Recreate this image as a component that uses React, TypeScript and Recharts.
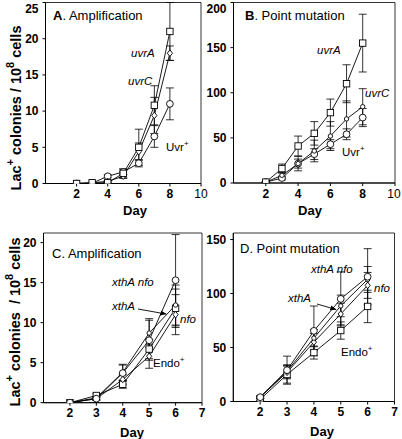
import React from "react";
import { LineChart, Line, XAxis, YAxis, ErrorBar, ReferenceArea } from "recharts";

// days sampled in panels A/B and C/D
const daysAB = [2, 3, 4, 5, 6, 7, 8];
const daysCD = [2, 3, 4, 5, 6];

// A. Amplification (Lac+ colonies / 10^8 cells)
const ampUvrA = [0, 0.1, 0.1, 1.4, 5.0, 10.8, 21.0];
const ampUvrAErr = [0, 0, 0.1, 0.6, 2.5, 2.7, 4.0];
const ampUvrC = [0, 0.1, 0.3, 1.0, 4.4, 9.4, 18.0];
const ampUvrCErr = [0, 0, 0.1, 0.3, 1.2, 2.5, 1.0];
const ampUvrPlus = [0, 0.05, 1.0, 1.6, 2.8, 6.5, 11.0];
const ampUvrPlusErr = [0, 0, 0.2, 0.4, 0.5, 1.5, 2.2];

// B. Point mutation
const ptUvrA = [1, 16, 41, 55, 78, 110, 155];
const ptUvrAErr = [0.5, 5, 11, 13, 15, 21, 32];
const ptUvrC = [1, 8.5, 21.5, 35.5, 52, 71, 84.5];
const ptUvrCErr = [0.5, 3, 8, 12, 16, 20, 20];
const ptUvrPlus = [1, 5.5, 21.5, 32, 43, 54, 72.5];
const ptUvrPlusErr = [0.5, 2, 5, 6, 5, 6, 10];

// C. Amplification
const ampXthANfo = [0, 0.5, 3.7, 7.8, 15.3];
const ampXthANfoErr = [0, 0.2, 1.0, 2.5, 5.7];
const ampXthA = [0, 0.6, 3.8, 8.7, 12.2];
const ampXthAErr = [0, 0.2, 1.0, 1.8, 2.5];
const ampNfo = [0, 0.5, 2.9, 5.8, 11.0];
const ampNfoErr = [0, 0.2, 0.6, 1.5, 2.5];
const ampEndo = [0, 0.9, 2.3, 6.7, 11.8];
const ampEndoErr = [0, 0.2, 0.5, 1.2, 2.4];

// D. Point mutation
const ptXthANfo = [4, 29, 65.4, 95, 115.5];
const ptXthANfoErr = [1, 13, 23, 25, 26];
const ptXthA = [4, 28, 58.7, 88.5, 113];
const ptXthAErr = [1, 6, 8, 10, 12];
const ptNfo = [4, 27, 55, 81, 107.5];
const ptNfoErr = [1, 6, 8, 10, 12];
const ptEndo = [2, 25, 45.3, 65.7, 88];
const ptEndoErr = [1, 8, 6, 8, 15];

const ticksA = [0, 5, 10, 15, 20, 25];
const ticksB = [0, 50, 100, 150, 200];
const ticksC = [0, 5, 10, 15, 20];
const ticksD = [0, 50, 100, 150];
const dayTicksAB = [2, 4, 6, 8, 10];
const dayTicksCD = [2, 3, 4, 5, 6, 7];

const FONT = "'Liberation Sans', Arial, Helvetica, sans-serif";

const dataA = daysAB.map((day, i) => ({
  day,
  a: ampUvrA[i], aErr: ampUvrAErr[i],
  c: ampUvrC[i], cErr: ampUvrCErr[i],
  p: ampUvrPlus[i], pErr: ampUvrPlusErr[i],
}));
const dataB = daysAB.map((day, i) => ({
  day,
  a: ptUvrA[i], aErr: ptUvrAErr[i],
  c: ptUvrC[i], cErr: ptUvrCErr[i],
  p: ptUvrPlus[i], pErr: ptUvrPlusErr[i],
}));
const dataC = daysCD.map((day, i) => ({
  day,
  xn: ampXthANfo[i], xnErr: ampXthANfoErr[i],
  x: ampXthA[i], xErr: ampXthAErr[i],
  n: ampNfo[i], nErr: ampNfoErr[i],
  e: ampEndo[i], eErr: ampEndoErr[i],
}));
const dataD = daysCD.map((day, i) => ({
  day,
  xn: ptXthANfo[i], xnErr: ptXthANfoErr[i],
  x: ptXthA[i], xErr: ptXthAErr[i],
  n: ptNfo[i], nErr: ptNfoErr[i],
  e: ptEndo[i], eErr: ptEndoErr[i],
}));

type Shape = "square" | "circle" | "smallCircle" | "diamond";

function marker(shape: Shape, props: any) {
  const { cx, cy, index } = props;
  const key = `${shape}-${index}`;
  if (cx == null || cy == null) return <g key={key} />;
  const st = { fill: "#fff", stroke: "#000", strokeWidth: 0.9 };
  if (shape === "square")
    return <rect key={key} x={cx - 3.2} y={cy - 3.2} width={6.4} height={6.4} {...st} />;
  if (shape === "circle") return <circle key={key} cx={cx} cy={cy} r={3.4} {...st} />;
  if (shape === "smallCircle") return <circle key={key} cx={cx} cy={cy} r={2.2} {...st} />;
  return (
    <polygon
      key={key}
      points={`${cx},${cy - 3.3} ${cx + 2.6},${cy} ${cx},${cy + 3.3} ${cx - 2.6},${cy}`}
      {...st}
    />
  );
}

const XTick = (props: any) => {
  const { x, y, payload, light } = props;
  return (
    <text x={x} y={y} dy="0.71em" textAnchor="middle" fontSize={12} fontFamily={FONT}
      fontWeight={payload.value === light ? 400 : 700} fill="#000">
      {payload.value}
    </text>
  );
};

const YTick = (props: any) => {
  const { x, y, payload } = props;
  return (
    <text x={x} y={y} dy="0.355em" textAnchor="end" fontSize={12} fontFamily={FONT}
      fontWeight={700} fill="#000">
      {payload.value}
    </text>
  );
};

type Series = { key: string; err: string; shape: Shape };

type PanelProps = {
  left: number; top: number; width: number; height: number;
  margin: { top: number; right: number; left: number; bottom: number };
  yWidth: number; xHeight: number;
  xDomain: [number, number]; yDomain: [number, number];
  xTicks: number[]; yTicks: number[];
  data: any[]; series: Series[]; light?: number;
};

function Panel(p: PanelProps) {
  return (
    <div style={{ position: "absolute", left: p.left, top: p.top }}>
      <LineChart width={p.width} height={p.height} data={p.data} margin={p.margin}>
        <XAxis dataKey="day" type="number" domain={p.xDomain} ticks={p.xTicks}
          allowDataOverflow height={p.xHeight} tickSize={3} tickMargin={3}
          axisLine={{ stroke: "#000" }} tickLine={{ stroke: "#000" }}
          tick={(t: any) => <XTick {...t} light={p.light} />} />
        <YAxis type="number" domain={p.yDomain} ticks={p.yTicks} allowDataOverflow
          width={p.yWidth} tickSize={3} tickMargin={4}
          axisLine={{ stroke: "#000" }} tickLine={{ stroke: "#000" }}
          tick={(t: any) => <YTick {...t} />} />
        <ReferenceArea x1={p.xDomain[0]} x2={p.xDomain[1]} y1={p.yDomain[0]} y2={p.yDomain[1]}
          fill="none" fillOpacity={0} stroke="#000" strokeWidth={0.8} ifOverflow="visible" />
        {p.series.map((s) => (
          <Line key={s.key} dataKey={s.key} type="linear" stroke="#000" strokeWidth={0.9}
            isAnimationActive={false} dot={(d: any) => marker(s.shape, d)} activeDot={false}>
            <ErrorBar dataKey={s.err} width={4} stroke="#000" strokeWidth={0.8}
              direction="y" isAnimationActive={false} />
          </Line>
        ))}
      </LineChart>
    </div>
  );
}

export default function App() {
  return (
    <div style={{ position: "absolute", left: 0, top: 0, width: 402, height: 439, background: "#fff", fontFamily: FONT }}>
      <Panel left={0} top={0} width={215} height={220}
        margin={{ top: 2.5, right: 14, left: 0, bottom: 0 }} yWidth={45.5} xHeight={36.5}
        xDomain={[0, 10]} yDomain={[0, 25]} xTicks={dayTicksAB} yTicks={ticksA}
        data={dataA} light={10}
        series={[
          { key: "p", err: "pErr", shape: "circle" },
          { key: "c", err: "cErr", shape: "diamond" },
          { key: "a", err: "aErr", shape: "square" },
        ]} />
      <Panel left={200} top={0} width={202} height={220}
        margin={{ top: 2.5, right: 7, left: 0, bottom: 0 }} yWidth={33.5} xHeight={37}
        xDomain={[0, 10]} yDomain={[0, 200]} xTicks={dayTicksAB} yTicks={ticksB}
        data={dataB} light={10}
        series={[
          { key: "p", err: "pErr", shape: "circle" },
          { key: "c", err: "cErr", shape: "smallCircle" },
          { key: "a", err: "aErr", shape: "square" },
        ]} />
      <Panel left={0} top={220} width={215} height={219}
        margin={{ top: 13, right: 13, left: 0, bottom: 0 }} yWidth={43.5} xHeight={36.3}
        xDomain={[1, 7]} yDomain={[0, 21.2]} xTicks={dayTicksCD} yTicks={ticksC}
        data={dataC}
        series={[
          { key: "e", err: "eErr", shape: "square" },
          { key: "n", err: "nErr", shape: "diamond" },
          { key: "x", err: "xErr", shape: "smallCircle" },
          { key: "xn", err: "xnErr", shape: "circle" },
        ]} />
      <Panel left={200} top={220} width={202} height={219}
        margin={{ top: 13, right: 7.5, left: 0, bottom: 0 }} yWidth={33.3} xHeight={37.5}
        xDomain={[1, 7]} yDomain={[0, 156]} xTicks={dayTicksCD} yTicks={ticksD}
        data={dataD}
        series={[
          { key: "e", err: "eErr", shape: "square" },
          { key: "n", err: "nErr", shape: "diamond" },
          { key: "x", err: "xErr", shape: "smallCircle" },
          { key: "xn", err: "xnErr", shape: "circle" },
        ]} />

      <svg width={402} height={439} style={{ position: "absolute", left: 0, top: 0, pointerEvents: "none" }}
        fontFamily={FONT} fill="#000">
        <defs>
          <marker id="ah" viewBox="0 0 10 10" refX="9" refY="5" markerWidth="7" markerHeight="7" orient="auto">
            <path d="M0,1 L10,5 L0,9 z" fill="#000" />
          </marker>
        </defs>

        {/* y-axis titles */}
        <text transform="translate(16,108) rotate(-90)" textAnchor="middle" dominantBaseline="central"
          fontSize={14.5} fontWeight={700}>
          Lac<tspan dy={-6} fontSize={11}>+</tspan>
          <tspan dy={6}> colonies / 10</tspan>
          <tspan dy={-6} fontSize={11}>8</tspan>
          <tspan dy={6}> cells</tspan>
        </text>
        <text transform="translate(15,322) rotate(-90)" textAnchor="middle" dominantBaseline="central"
          fontSize={14.5} fontWeight={700}>
          Lac<tspan dy={-6} fontSize={11}>+</tspan>
          <tspan dy={6} xmlSpace="preserve"> colonies  / 10</tspan>
          <tspan dy={-6} fontSize={11}>8</tspan>
          <tspan dy={6}> cells</tspan>
        </text>

        {/* x-axis titles */}
        <text x={135} y={210} textAnchor="middle" dominantBaseline="central" fontSize={13} fontWeight={700}>Day</text>
        <text x={310} y={210} textAnchor="middle" dominantBaseline="central" fontSize={13} fontWeight={700}>Day</text>
        <text x={132} y={432} textAnchor="middle" dominantBaseline="central" fontSize={13} fontWeight={700}>Day</text>
        <text x={322} y={431} textAnchor="middle" dominantBaseline="central" fontSize={13} fontWeight={700}>Day</text>

        {/* panel titles */}
        <text x={53} y={15} dominantBaseline="central" fontSize={13}>
          <tspan fontWeight={700}>A</tspan>. Amplification
        </text>
        <text x={245} y={15} dominantBaseline="central" fontSize={13}>
          <tspan fontWeight={700}>B</tspan>. Point mutation
        </text>
        <text x={52} y={253} dominantBaseline="central" fontSize={13}>C. Amplification</text>
        <text x={240} y={248} dominantBaseline="central" fontSize={13}>D. Point mutation</text>

        {/* series labels A */}
        <text x={131} y={53} dominantBaseline="central" fontSize={11.5} fontStyle="italic">uvrA</text>
        <text x={128} y={81} dominantBaseline="central" fontSize={11.5} fontStyle="italic">uvrC</text>
        <text x={166} y={147} dominantBaseline="central" fontSize={11.5}>
          Uvr<tspan dy={-4} fontSize={8}>+</tspan>
        </text>
        {/* series labels B */}
        <text x={317} y={50} dominantBaseline="central" fontSize={11.5} fontStyle="italic">uvrA</text>
        <text x={365} y={93} dominantBaseline="central" fontSize={11.5} fontStyle="italic">uvrC</text>
        <text x={342} y={152} dominantBaseline="central" fontSize={11.5}>
          Uvr<tspan dy={-4} fontSize={8}>+</tspan>
        </text>
        {/* series labels C */}
        <text x={112} y={282} dominantBaseline="central" fontSize={11.5} fontStyle="italic">xthA nfo</text>
        <text x={112} y={306} dominantBaseline="central" fontSize={11.5} fontStyle="italic">xthA</text>
        <text x={180} y={319} dominantBaseline="central" fontSize={11.5} fontStyle="italic">nfo</text>
        <text x={153} y={363} dominantBaseline="central" fontSize={11.5}>
          Endo<tspan dy={-4} fontSize={8}>+</tspan>
        </text>
        <line x1={138} y1={309} x2={166} y2={314} stroke="#000" strokeWidth={0.9} markerEnd="url(#ah)" />
        {/* series labels D */}
        <text x={311} y={269} dominantBaseline="central" fontSize={11.5} fontStyle="italic">xthA nfo</text>
        <text x={288} y={298} dominantBaseline="central" fontSize={11.5} fontStyle="italic">xthA</text>
        <text x={374} y={288} dominantBaseline="central" fontSize={11.5} fontStyle="italic">nfo</text>
        <text x={341} y={352} dominantBaseline="central" fontSize={11.5}>
          Endo<tspan dy={-4} fontSize={8}>+</tspan>
        </text>
        <line x1={317} y1={304} x2={336} y2={309.5} stroke="#000" strokeWidth={0.9} markerEnd="url(#ah)" />
      </svg>
    </div>
  );
}
